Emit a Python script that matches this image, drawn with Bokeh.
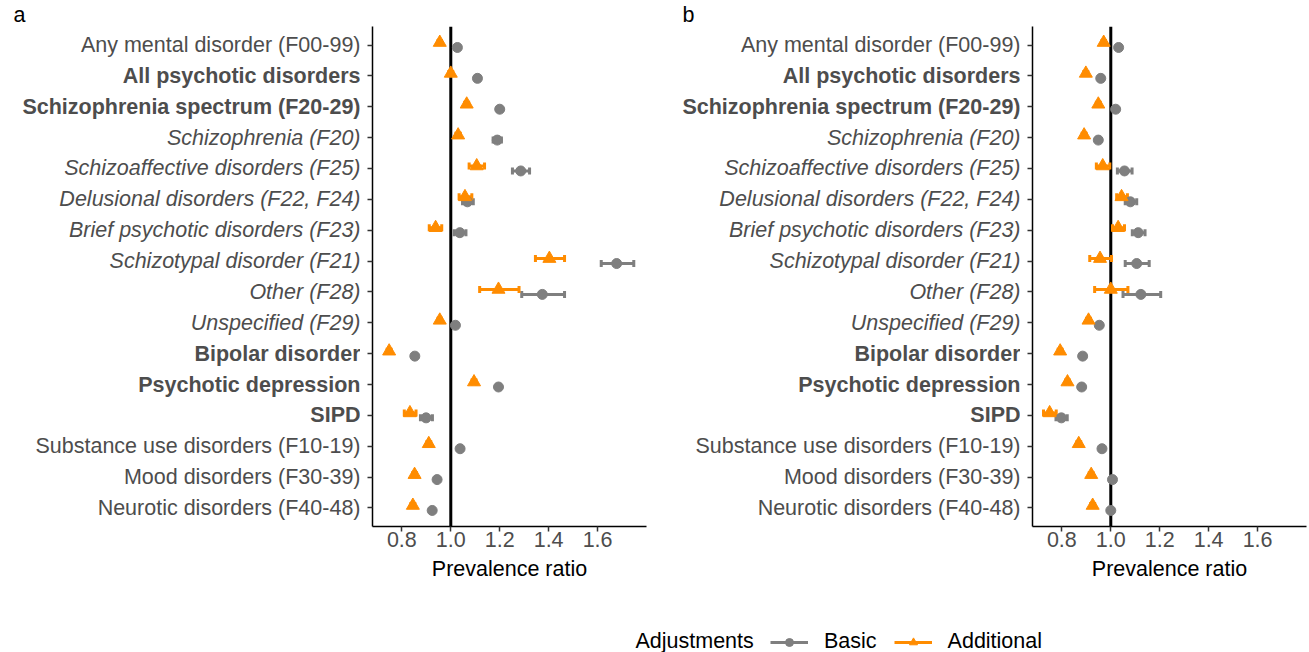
from bokeh.plotting import figure
from bokeh.models import (ColumnDataSource, Range1d, FixedTicker, PrintfTickFormatter,
                          Span, Label, Whisker, TeeHead, Legend, LegendItem)
from bokeh.core.properties import value
from bokeh.layouts import row, column
from bokeh.embed import file_html
from bokeh.resources import INLINE

categories = [
    "Any mental disorder (F00-99)", "All psychotic disorders", "Schizophrenia spectrum (F20-29)",
    "Schizophrenia (F20)", "Schizoaffective disorders (F25)", "Delusional disorders (F22, F24)",
    "Brief psychotic disorders (F23)", "Schizotypal disorder (F21)", "Other (F28)",
    "Unspecified (F29)", "Bipolar disorder", "Psychotic depression", "SIPD",
    "Substance use disorders (F10-19)", "Mood disorders (F30-39)", "Neurotic disorders (F40-48)",
]
label_styles = ["normal", "bold", "bold", "italic", "italic", "italic", "italic", "italic",
                "italic", "italic", "bold", "bold", "bold", "normal", "normal", "normal"]

# Panel a
basic_a = [1.027, 1.109, 1.200, 1.190, 1.286, 1.068, 1.037, 1.678, 1.374, 1.019, 0.853, 1.195, 0.899, 1.038, 0.944, 0.924]
basic_a_lo = [1.020, 1.100, 1.192, 1.173, 1.252, 1.048, 1.014, 1.615, 1.290, 1.012, 0.846, 1.187, 0.876, 1.032, 0.938, 0.918]
basic_a_hi = [1.034, 1.118, 1.208, 1.207, 1.322, 1.092, 1.062, 1.748, 1.465, 1.026, 0.860, 1.203, 0.925, 1.044, 0.950, 0.930]
add_a = [0.955, 1.000, 1.065, 1.030, 1.106, 1.058, 0.938, 1.403, 1.195, 0.955, 0.748, 1.095, 0.833, 0.910, 0.852, 0.845]
add_a_lo = [0.948, 0.992, 1.057, 1.021, 1.075, 1.034, 0.912, 1.346, 1.118, 0.948, 0.740, 1.087, 0.810, 0.902, 0.844, 0.837]
add_a_hi = [0.962, 1.008, 1.073, 1.039, 1.138, 1.086, 0.963, 1.465, 1.279, 0.962, 0.756, 1.103, 0.858, 0.918, 0.860, 0.853]

# Panel b
basic_b = [1.032, 0.959, 1.020, 0.949, 1.056, 1.080, 1.112, 1.106, 1.123, 0.953, 0.885, 0.881, 0.798, 0.964, 1.007, 1.000]
basic_b_lo = [1.026, 0.951, 1.012, 0.941, 1.027, 1.059, 1.088, 1.059, 1.050, 0.945, 0.878, 0.873, 0.776, 0.957, 1.000, 0.993]
basic_b_hi = [1.038, 0.967, 1.028, 0.957, 1.087, 1.106, 1.140, 1.157, 1.204, 0.961, 0.892, 0.889, 0.822, 0.971, 1.014, 1.007]
add_b = [0.971, 0.898, 0.949, 0.891, 0.967, 1.044, 1.030, 0.956, 1.000, 0.909, 0.793, 0.823, 0.750, 0.869, 0.920, 0.926]
add_b_lo = [0.964, 0.890, 0.941, 0.883, 0.941, 1.024, 1.007, 0.914, 0.934, 0.901, 0.785, 0.815, 0.725, 0.861, 0.912, 0.918]
add_b_hi = [0.978, 0.906, 0.957, 0.899, 0.996, 1.068, 1.056, 1.003, 1.070, 0.917, 0.801, 0.831, 0.777, 0.877, 0.928, 0.934]

x_ticks = [0.8, 1.0, 1.2, 1.4, 1.6]
series_names = ["Basic", "Additional"]
panel_letters = ["a", "b"]

GRAY = "#7F7F7F"
ORANGE = "#FF8C00"
FONT = "Liberation Sans"
FS = "21.5px"
X0, X1 = 0.68, 1.80
DODGE = 0.08
N = len(categories)
Y_BOT, Y_TOP = N + 0.6, 0.4

FIG_H = 600
TOP_B, BOT_B = 26, 74


def make_labels(letter, width, letter_x):
    # label column sharing the plot's vertical scale
    lab = figure(width=width, height=FIG_H, x_range=Range1d(0, width),
                 y_range=Range1d(Y_BOT, Y_TOP),
                 output_backend="svg", toolbar_location=None,
                 x_axis_type=None, y_axis_type=None,
                 min_border_left=0, min_border_right=0, min_border_top=TOP_B, min_border_bottom=BOT_B)
    lab.outline_line_color = None
    lab.grid.visible = False
    lab.title.text = letter
    lab.title.align = "left"
    lab.title.offset = letter_x
    lab.title.standoff = 0
    lab.title.text_font = FONT
    lab.title.text_font_size = FS
    lab.title.text_font_style = "normal"
    lab.title.text_color = "black"
    src = ColumnDataSource(dict(x=[width] * N, y=list(range(1, N + 1)), t=categories,
                                fstyle=label_styles))
    lab.text(x="x", y="y", text="t", source=src, text_align="right", text_baseline="middle",
             text_font=value(FONT), text_font_size=value(FS), text_font_style="fstyle",
             text_color="#4D4D4D")
    return lab


def make_panel(basic, blo, bhi, add, alo, ahi, width, border_right):
    ys = list(range(1, N + 1))
    src = ColumnDataSource(dict(
        yb=[y + DODGE for y in ys], ya=[y - DODGE for y in ys],
        b=basic, blo=blo, bhi=bhi, a=add, alo=alo, ahi=ahi))
    p = figure(width=width, height=FIG_H, x_range=Range1d(X0, X1), y_range=Range1d(Y_BOT, Y_TOP),
               output_backend="svg", toolbar_location=None,
               min_border_left=12, min_border_right=border_right,
               min_border_top=TOP_B, min_border_bottom=BOT_B)
    p.outline_line_color = None
    p.grid.visible = False

    for ax in (p.xaxis[0], p.yaxis[0]):
        ax.axis_line_color = "black"
        ax.axis_line_width = 1.5
        ax.major_tick_line_color = "#333333"
        ax.major_tick_line_width = 1.5
        ax.major_tick_out = 5
        ax.major_tick_in = 0
        ax.minor_tick_line_color = None
    p.xaxis.ticker = FixedTicker(ticks=x_ticks)
    p.xaxis.formatter = PrintfTickFormatter(format="%.1f")
    p.xaxis.major_label_text_font = FONT
    p.xaxis.major_label_text_font_size = FS
    p.xaxis.major_label_text_color = "#4D4D4D"
    p.xaxis.major_label_standoff = 0
    p.xaxis.axis_label = "Prevalence ratio"
    p.xaxis.axis_label_text_font = FONT
    p.xaxis.axis_label_text_font_size = FS
    p.xaxis.axis_label_text_font_style = "normal"
    p.xaxis.axis_label_text_color = "black"
    p.xaxis.axis_label_standoff = 7
    p.yaxis.ticker = FixedTicker(ticks=ys)
    p.yaxis.major_label_overrides = {y: "" for y in ys}
    p.yaxis.major_label_standoff = 0

    p.add_layout(Span(location=1.0, dimension="height", line_color="black", line_width=3,
                      level="underlay"))

    for base, lo, hi, col in (("yb", "blo", "bhi", GRAY), ("ya", "alo", "ahi", ORANGE)):
        p.add_layout(Whisker(source=src, base=base, lower=lo, upper=hi, dimension="width",
                             line_color=col, line_width=3, level="underlay",
                             upper_head=TeeHead(size=7, line_color=col, line_width=3),
                             lower_head=TeeHead(size=7, line_color=col, line_width=3)))
    p.scatter(x="b", y="yb", source=src, marker="circle", size=10, color=GRAY)
    p.scatter(x="a", y="ya", source=src, marker="triangle", size=13, color=ORANGE)
    return p


lab1 = make_labels(panel_letters[0], 360, 13)
p1 = make_panel(basic_a, basic_a_lo, basic_a_hi, add_a, add_a_lo, add_a_hi, 308, 22)
lab2 = make_labels(panel_letters[1], 352, 14)
p2 = make_panel(basic_b, basic_b_lo, basic_b_hi, add_b, add_b_lo, add_b_hi, 287, 1)

LEG_W, LEG_H = 1307, 52
leg = figure(width=LEG_W, height=LEG_H, x_range=Range1d(0, LEG_W), y_range=Range1d(0, LEG_H),
             output_backend="svg", toolbar_location=None, x_axis_type=None, y_axis_type=None,
             min_border=0, min_border_left=0, min_border_right=0, min_border_top=0, min_border_bottom=0)
leg.outline_line_color = None
leg.grid.visible = False
offscreen = ColumnDataSource(dict(x=[-1000], y=[-1000]))
lb = leg.line("x", "y", source=offscreen, line_color=GRAY, line_width=3)
sb = leg.scatter("x", "y", source=offscreen, marker="circle", size=10, color=GRAY)
la = leg.line("x", "y", source=offscreen, line_color=ORANGE, line_width=3)
sa = leg.scatter("x", "y", source=offscreen, marker="triangle", size=13, color=ORANGE)
legend = Legend(items=[LegendItem(label=series_names[0], renderers=[lb, sb]),
                       LegendItem(label=series_names[1], renderers=[la, sa])],
                orientation="horizontal", location=(770, -2),
                label_text_font=FONT, label_text_font_size=FS, label_text_color="black",
                glyph_width=38, glyph_height=20, label_standoff=16, spacing=17,
                padding=0, margin=0, border_line_color=None, background_fill_alpha=0)
leg.add_layout(legend)
leg.add_layout(Label(x=635, y=12, text="Adjustments", text_align="left", text_baseline="middle",
                     text_font=FONT, text_font_size=FS, text_color="black"))

layout = column(row(lab1, p1, lab2, p2), leg)
open("out.html", "w").write(file_html(layout, INLINE))
